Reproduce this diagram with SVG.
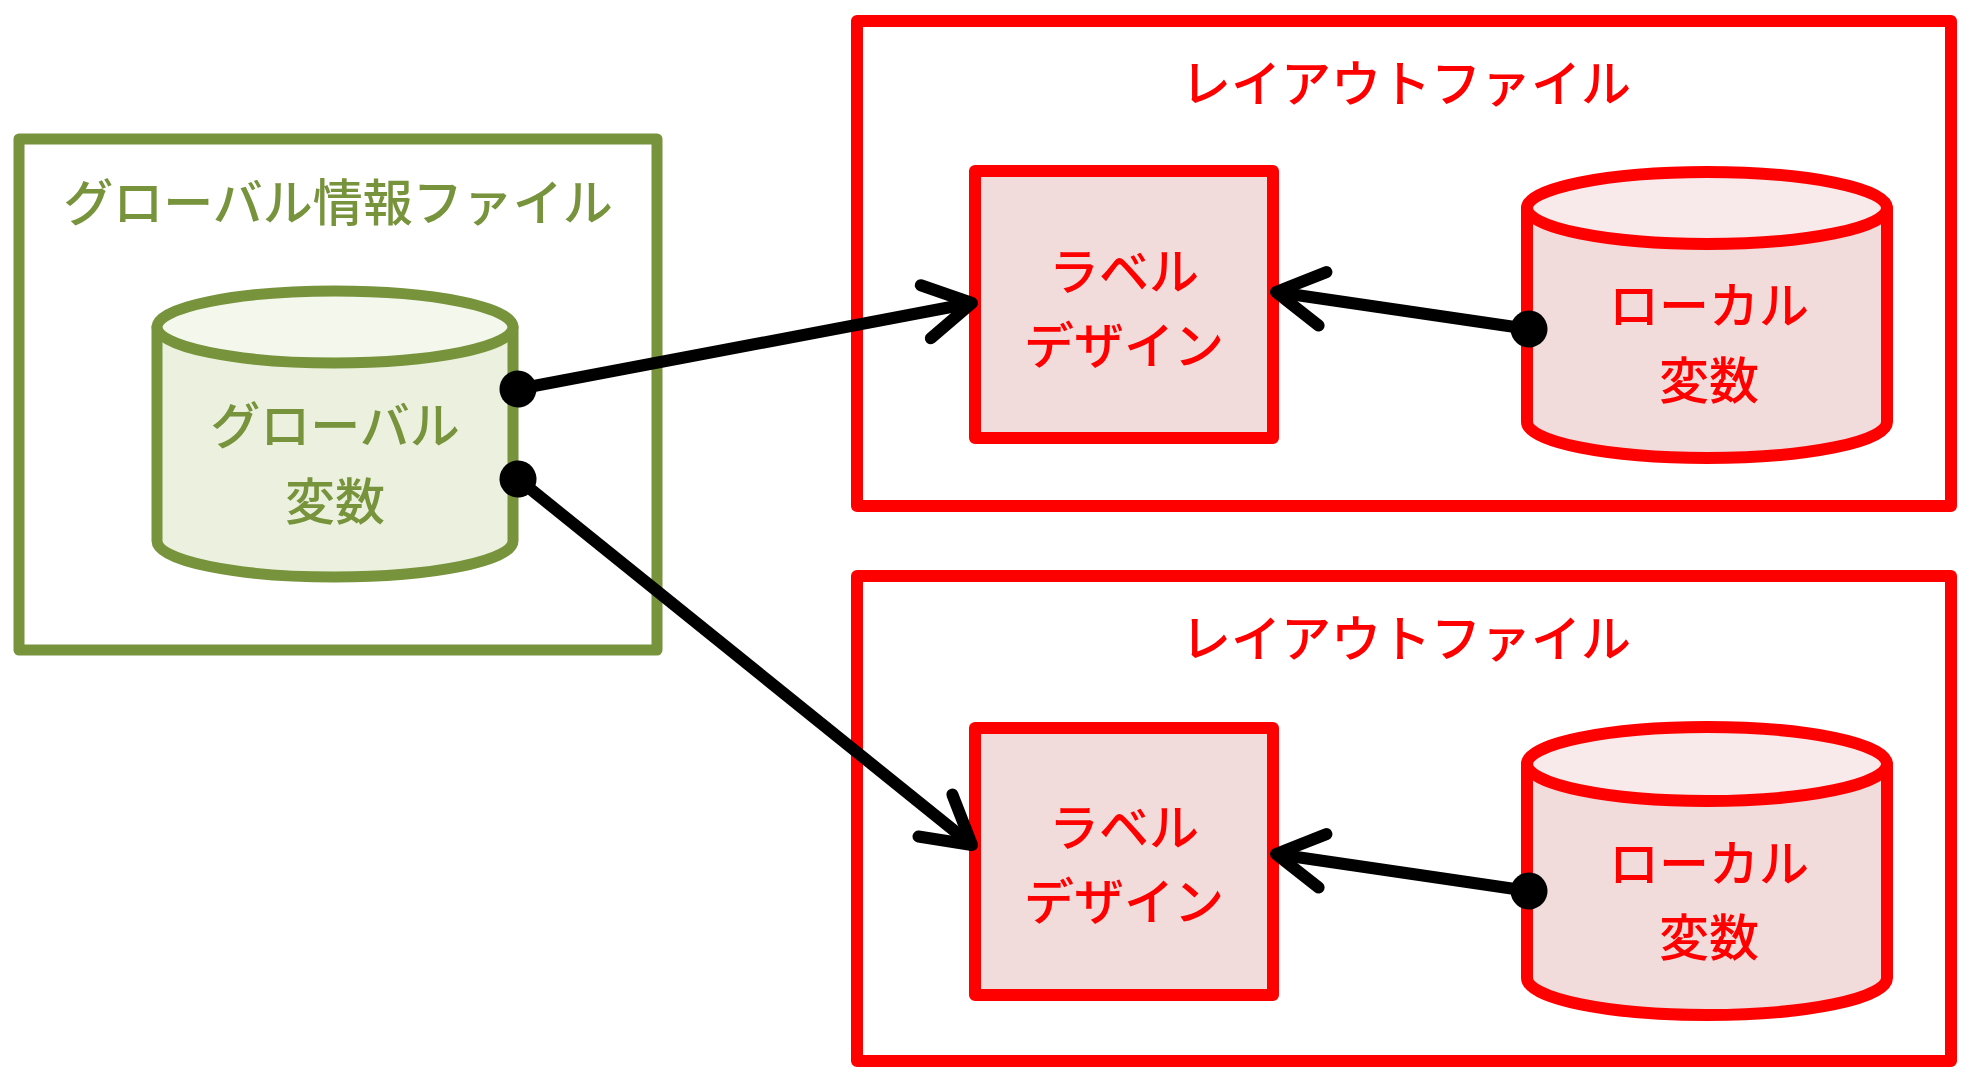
<svg xmlns="http://www.w3.org/2000/svg" width="1978" height="1092" viewBox="0 0 1978 1092">
<defs>
<style>
.txt{font-family:"Noto Sans CJK JP","Noto Sans CJK SC",sans-serif;font-size:50px;font-weight:500;text-anchor:middle;dominant-baseline:central}
.g{fill:#77933C}
.r{fill:#FF0000}
.gbox{fill:#FFFFFF;stroke:#77933C;stroke-width:11;stroke-linejoin:round}
.gcyl{fill:#EBF1DE;stroke:#77933C;stroke-width:11;stroke-linejoin:round}
.gtop{fill:#F3F7EC;stroke:#77933C;stroke-width:11}
.rbox{fill:#FFFFFF;stroke:#FF0000;stroke-width:12;stroke-linejoin:round}
.lbl{fill:#F2DCDB;stroke:#FF0000;stroke-width:12;stroke-linejoin:round}
.rcyl{fill:#F2DCDB;stroke:#FF0000;stroke-width:12;stroke-linejoin:round}
.rtop{fill:#F8EAEA;stroke:#FF0000;stroke-width:12}
.conn{fill:none;stroke:#000000;stroke-width:12;marker-start:url(#dot);marker-end:url(#arrow)}
</style>
<marker id="arrow" markerUnits="userSpaceOnUse" viewBox="-60 -40 70 80" refX="0" refY="0" markerWidth="70" markerHeight="80" orient="auto">
<path d="M-47 -27 L0 0 L-47 27" fill="none" stroke="#000000" stroke-width="12" stroke-linecap="round" stroke-linejoin="round"/>
</marker>
<marker id="dot" markerUnits="userSpaceOnUse" viewBox="-22 -22 44 44" refX="0" refY="0" markerWidth="44" markerHeight="44" orient="auto">
<circle cx="0" cy="0" r="18.5" fill="#000000"/>
</marker>
</defs>

<g id="global-file">
<rect class="gbox" x="19" y="139" width="638" height="511"/>
<text class="txt g" x="338" y="199">グローバル情報ファイル</text>
</g>
<g id="global-var">
<path class="gcyl" d="M157 327 V541 A178 36 0 0 0 513 541 V327 Z"/>
<ellipse class="gtop" cx="335" cy="327" rx="178" ry="36"/>
<text class="txt g" x="335" y="422">グローバル</text>
<text class="txt g" x="335" y="498">変数</text>
</g>

<g id="layout-file-1">
<rect class="rbox" x="857" y="21" width="1094" height="485"/>
<text class="txt r" x="1406" y="80">レイアウトファイル</text>
</g>
<g id="label-design-1">
<rect class="lbl" x="975" y="171" width="298" height="267"/>
<text class="txt r" x="1124" y="268">ラベル</text>
<text class="txt r" x="1124" y="342">デザイン</text>
</g>
<g id="local-var-1">
<path class="rcyl" d="M1527 208 V422 A180 36 0 0 0 1887 422 V208 Z"/>
<ellipse class="rtop" cx="1707" cy="208" rx="180" ry="36"/>
<text class="txt r" x="1709" y="302">ローカル</text>
<text class="txt r" x="1709" y="377">変数</text>
</g>

<g id="layout-file-2">
<rect class="rbox" x="857" y="576" width="1094" height="485"/>
<text class="txt r" x="1406" y="635">レイアウトファイル</text>
</g>
<g id="label-design-2">
<rect class="lbl" x="975" y="728" width="298" height="267"/>
<text class="txt r" x="1124" y="824">ラベル</text>
<text class="txt r" x="1124" y="898">デザイン</text>
</g>
<g id="local-var-2">
<path class="rcyl" d="M1527 764 V978 A180 37 0 0 0 1887 978 V764 Z"/>
<ellipse class="rtop" cx="1707" cy="764" rx="180" ry="37"/>
<text class="txt r" x="1709" y="860">ローカル</text>
<text class="txt r" x="1709" y="934">変数</text>
</g>

<g id="connectors">
<path class="conn" d="M518 389 L972 303"/>
<path class="conn" d="M518 479 L972 845"/>
<path class="conn" d="M1529 329 L1276 292"/>
<path class="conn" d="M1529 891 L1276 854"/>
</g>
</svg>
